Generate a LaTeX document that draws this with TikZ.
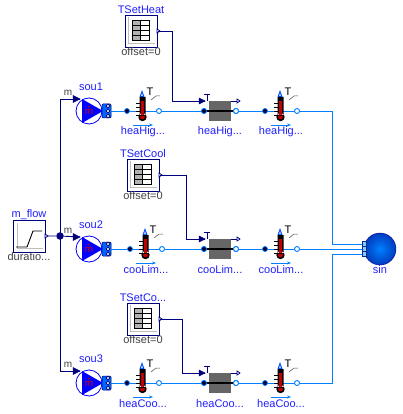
\documentclass[tikz,border=0pt]{standalone}
\usepackage{fontspec}
\setmainfont{Liberation Sans}
\usepackage{xcolor}
\definecolor{myname}{RGB}{30,30,255}
\definecolor{mynavy}{RGB}{0,0,127}
\definecolor{myfluid}{RGB}{0,127,255}
\definecolor{myport}{RGB}{0,50,140}
\definecolor{mygrey}{RGB}{190,190,190}
\definecolor{myrim}{RGB}{0,60,190}
\usetikzlibrary{arrows.meta}
\tikzset{
  lbl/.style={font=\fontsize{11}{12}\selectfont, inner sep=0pt, text=myname},
  par/.style={font=\fontsize{11}{12}\selectfont, inner sep=0pt, text=black!75},
  sig/.style={draw=mynavy, line width=0.9pt},
  flu/.style={draw=myfluid, line width=0.9pt},
  porta/.style={circle, draw=myfluid, fill=black!80!blue, line width=0.7pt, minimum size=5pt, inner sep=0pt},
  portb/.style={circle, draw=myfluid, fill=white, line width=0.9pt, minimum size=5pt, inner sep=0pt},
  portc/.style={circle, draw=black!60!blue, fill=white, line width=0.7pt, minimum size=3.6pt, inner sep=0pt},
  portd/.style={rectangle, draw=myport, fill=myfluid!45!white, line width=0.8pt, minimum size=4.6pt, inner sep=0pt},
  dot/.style={circle, fill=mynavy, minimum size=7.5pt, inner sep=0pt},
  tip/.style={fill=mynavy, draw=mynavy, line width=0.5pt},
  hollow/.style={fill=white, draw=mynavy, line width=0.7pt},
}
% temperature sensor: name, x, y, label
\newcommand{\sensor}[4]{
  \node[porta] (#1a) at (#2-16,#3) {};
  \node[portb] (#1b) at (#2+16,#3) {};
  \draw[flu] (#1a) -- (#1b);
  \fill[myfluid!60!blue] (#2-3.5,#3-14) -- (#2-1,#3-21) -- (#2+1.5,#3-14) -- cycle;
  \fill[white] (#2-1.8,#3-15) -- (#2-1,#3-18) -- (#2-0.2,#3-15) -- cycle;
  \fill[black] (#2-3.5,#3-14) rectangle (#2+2.5,#3+4) (#2-0.5,#3+6) circle [radius=4.2];
  \fill[red!75!black] (#2-2,#3-10) rectangle (#2+1,#3+5) (#2-0.5,#3+6) circle [radius=2.4];
  \foreach \t in {-8,-4,0,4}{\draw[black, line width=0.6pt] (#2-7,#3+\t) -- (#2-3,#3+\t);}
  \node[font=\fontsize{11}{12}\selectfont, inner sep=0pt] at (#2+7,#3-19) {T};
  \draw[black!70, line width=0.5pt] (#2+8,#3-11) -- (#2+13,#3-15) -- (#2+17,#3-15);
  \draw[myfluid, line width=0.7pt, -{Stealth[length=4pt,width=3pt]}] (#2-10,#3+14) -- (#2+10,#3+14);
  \node[lbl] at (#2,#3+21) {#4};
}
% pump: name, x, y, label
\newcommand{\pump}[4]{
  \draw[blue, fill=white, line width=0.8pt] (#2,#3) circle [radius=13];
  \fill[blue] (#2-7,#3-12) -- (#2+14,#3) -- (#2-7,#3+12) -- cycle;
  \node[font=\fontsize{10}{12}\selectfont, inner sep=0pt, text=red!85!black] at (#2,#3+1) {m};
  \fill[red!85!black] (#2,#3-4.5) circle [radius=0.8];
  \draw[black!60!blue, fill=myfluid!80!blue, rounded corners=1pt, line width=0.5pt] (#2+13,#3-7) rectangle (#2+22,#3+7);
  \node[portc] (#1o) at (#2+19,#3) {};
  \node[portc] at (#2+19,#3-5) {};
  \node[portc] at (#2+19,#3+5) {};
  \node[par, font=\fontsize{10}{10}\selectfont] at (#2-21,#3-18) {m};
  \node[lbl] at (#2+2,#3-24) {#4};
  \coordinate (#1i) at (#2-9,#3-12);
  \fill[tip] (#2-9,#3-12) -- (#2-16,#3-15.5) -- (#2-16,#3-8.5) -- cycle;
}
% table source: name, x, y of the centre, label
\newcommand{\tablesrc}[4]{
  \node[draw=mynavy, fill=white, line width=0.9pt, minimum size=32pt, inner sep=0pt] (#1) at (#2,#3) {};
  \draw[mygrey, line width=0.8pt] (#2-13,#3-14) -- (#2-13,#3+12) -- (#2+14,#3+12);
  \fill[black!30] (#2-9,#3-11) rectangle (#2-1,#3+9);
  \draw[black, line width=0.7pt] (#2-9,#3-11) rectangle (#2+8,#3+9)
    (#2-9,#3-6) -- (#2+8,#3-6) (#2-9,#3-1) -- (#2+8,#3-1) (#2-9,#3+4) -- (#2+8,#3+4)
    (#2-1,#3-11) -- (#2-1,#3+9);
  \node[lbl] at (#2,#3-21) {#4};
  \node[par] at (#2,#3+21) {offset=0};
  \coordinate (#1o) at (#2+17,#3);
  \fill[hollow] (#2+16,#3-2) -- (#2+19,#3) -- (#2+16,#3+2) -- cycle;
}
% heat exchanger: name, x, y, label
\newcommand{\hex}[4]{
  \node[porta] (#1a) at (#2-16,#3) {};
  \node[portb] (#1b) at (#2+16,#3) {};
  \fill[black!60] (#2-11,#3-10) rectangle (#2+11,#3+10);
  \draw[black, line width=2.4pt] (#1a) -- (#1b);
  \node[porta] at (#1a) {};
  \node[portb] at (#1b) {};
  \coordinate (#1u) at (#2-15,#3-10);
  \fill[tip] (#2-15,#3-10) -- (#2-21,#3-13) -- (#2-21,#3-7) -- cycle;
  \draw[mynavy, line width=0.9pt] (#2-13,#3-10) -- (#2-13,#3-17) (#2-16,#3-17) -- (#2-10,#3-17) (#2+11,#3-10) -- (#2+17,#3-10);
  \fill[hollow] (#2+17,#3-12) -- (#2+20,#3-10) -- (#2+17,#3-8) -- cycle;
  \node[lbl] at (#2,#3+21) {#4};
}
\begin{document}
\begin{tikzpicture}[x=1pt,y=-1pt]
  \useasboundingbox (0,0) rectangle (402,414);

  % source with the ramp
  \node[draw=mynavy, fill=white, line width=0.9pt, minimum size=32pt, inner sep=0pt] (ramp) at (29,236) {};
  \draw[mygrey, line width=0.8pt] (17,223) -- (17,248) -- (43,248);
  \draw[black, line width=0.9pt] (16,247) -- (27,247) -- (33,231) -- (42,231);
  \node[lbl] at (29,215) {m\_flow};
  \node[par] at (29,257) {duratio...};
  \fill[hollow] (45,234) -- (48,236) -- (45,238) -- cycle;
  \coordinate (rampo) at (48,236);

  \pump{pumA}{89}{111}{sou1}
  \pump{pumB}{89}{249}{sou2}
  \pump{pumC}{89}{383}{sou3}

  \node[dot] (jun) at (60,236) {};
  \coordinate (upA) at (60,99);
  \coordinate (upC) at (60,371);
  \draw[sig] (rampo) -- (jun) -- (pumBi);
  \draw[sig] (pumAi) -- (upA) -- (upC) -- (pumCi);

  \tablesrc{THeat}{141}{31}{TSetHeat}
  \tablesrc{TCool}{143}{175}{TSetCool}
  \tablesrc{TCoHe}{143}{319}{TSetCo...}

  \sensor{senHigA}{143}{111}{heaHig...}
  \hex{hexHig}{220}{111}{heaHig...}
  \sensor{senHigB}{281}{111}{heaHig...}
  \sensor{senLimA}{146}{249}{cooLim...}
  \hex{hexLim}{220}{249}{cooLim...}
  \sensor{senLimB}{281}{249}{cooLim...}
  \sensor{senCooA}{143}{383}{heaCoo...}
  \hex{hexCoo}{220}{383}{heaCoo...}
  \sensor{senCooB}{281}{383}{heaCoo...}

  % signals of the set points
  \draw[sig] (THeato) -| (172,101) -- (hexHigu);
  \draw[sig] (TCoolo) -| (186,239) -- (hexLimu);
  \draw[sig] (TCoHeo) -| (182,373) -- (hexCoou);

  % sink
  \shade[inner color=myfluid, outer color=myrim, draw=black!40!blue] (380,249) circle [radius=16];
  \node[lbl] at (380,270) {sin};
  \node[portd] (sinA) at (364.5,244) {};
  \node[portd] (sinB) at (364.5,249) {};
  \node[portd] (sinC) at (364.5,254) {};

  % fluid lines
  \draw[flu] (pumAo) -- (senHigAa) (senHigAb) -- (hexHiga) (hexHigb) -- (senHigBa);
  \draw[flu] (pumBo) -- (senLimAa) (senLimAb) -- (hexLima) (hexLimb) -- (senLimBa);
  \draw[flu] (pumCo) -- (senCooAa) (senCooAb) -- (hexCooa) (hexCoob) -- (senCooBa);
  \draw[flu] (senHigBb) -| (332,244) -- (sinA);
  \draw[flu] (senLimBb) -- (sinB);
  \draw[flu] (senCooBb) -| (332,254) -- (sinC);
\end{tikzpicture}
\end{document}
